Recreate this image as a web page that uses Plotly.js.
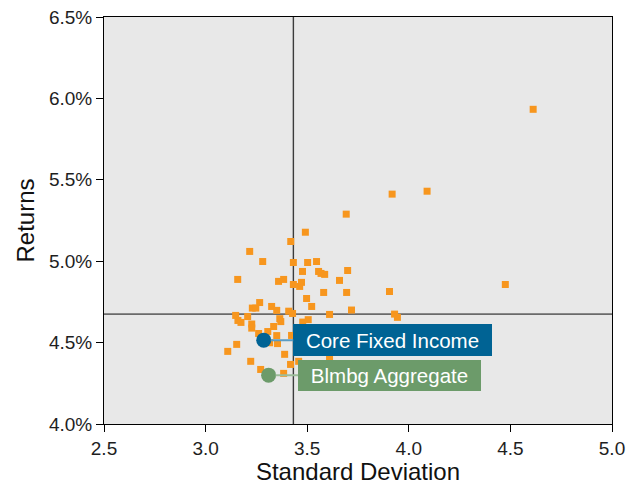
<!DOCTYPE html>
<html>
<head>
<meta charset="utf-8">
<script src="https://cdn.plot.ly/plotly-3.0.1.min.js"></script>
<style>html,body{margin:0;padding:0;background:#fff;}#chart{width:640px;height:485px;}</style>
</head>
<body>
<div id="chart"></div>
<script>
// Peer universe: standard deviation (x) and returns in % (y)
const peerStdDev = [4.612,4.090,3.918,3.692,3.491,3.419,3.217,3.281,3.432,3.502,3.546,3.158,3.359,3.384,3.432,3.477,3.556,3.568,3.586,3.699,3.659,3.472,3.463,3.581,3.694,3.905,4.475,3.497,3.522,3.718,3.930,3.944,3.266,3.230,3.247,3.325,3.350,3.409,3.428,3.148,3.207,3.159,3.174,3.227,3.227,3.335,3.365,3.370,3.261,3.306,3.350,3.423,3.354,3.153,3.109,3.389,3.222,3.418,3.271,3.384,3.315,3.610,3.478,3.505,3.458,3.610];
const peerReturns = [5.933,5.430,5.412,5.289,5.178,5.121,5.060,4.998,4.992,4.992,4.998,4.888,4.876,4.888,4.857,4.937,4.937,4.925,4.919,4.943,4.882,4.870,4.845,4.808,4.808,4.814,4.857,4.771,4.722,4.700,4.675,4.655,4.746,4.712,4.712,4.722,4.698,4.693,4.679,4.667,4.660,4.636,4.624,4.614,4.589,4.599,4.647,4.629,4.556,4.568,4.543,4.544,4.494,4.489,4.446,4.428,4.385,4.366,4.335,4.311,4.499,4.673,4.626,4.641,4.385,4.397];

const coreName = "Core Fixed Income";
const coreStdDev = [3.286];
const coreReturns = [4.515];

const aggName = "Blmbg Aggregate";
const aggStdDev = [3.310];
const aggReturns = [4.300];

// Reference (median) lines
const medianStdDev = 3.432;
const medianReturn = 4.675;

const xTicks = [2.5, 3.0, 3.5, 4.0, 4.5, 5.0];
const xTickLabels = ["2.5", "3.0", "3.5", "4.0", "4.5", "5.0"];
const yTicks = [4.0, 4.5, 5.0, 5.5, 6.0, 6.5];
const yTickLabels = ["4.0%", "4.5%", "5.0%", "5.5%", "6.0%", "6.5%"];

const FONT = "Liberation Sans";

const traces = [
  {x: peerStdDev, y: peerReturns, type: "scatter", mode: "markers", name: "Peers",
   marker: {symbol: "square", size: 7, color: "#F7961E"}, hoverinfo: "skip"},
  {x: coreStdDev, y: coreReturns, type: "scatter", mode: "markers", name: coreName,
   marker: {symbol: "circle", size: 15, color: "#006394"}},
  {x: aggStdDev, y: aggReturns, type: "scatter", mode: "markers", name: aggName,
   marker: {symbol: "circle", size: 15, color: "#6C9B6A"}}
];

const tickFont = {family: FONT, size: 19, color: "#1e1e1e"};

const layout = {
  width: 640, height: 485,
  margin: {l: 104, r: 28, t: 17, b: 61, pad: 0},
  paper_bgcolor: "#ffffff",
  plot_bgcolor: "#E8E8E8",
  showlegend: false,
  font: {family: FONT, color: "#1e1e1e", size: 19},
  xaxis: {
    range: [2.5, 5.0], tickmode: "array", tickvals: xTicks, ticktext: xTickLabels,
    showgrid: false, zeroline: false,
    showline: true, linecolor: "#000", linewidth: 1, mirror: true,
    ticks: "outside", ticklen: 7, tickcolor: "#000", tickwidth: 1,
    tickfont: tickFont,
    title: {text: "Standard Deviation", font: {family: FONT, size: 24, color: "#111"}, standoff: 3}
  },
  yaxis: {
    range: [4.0, 6.5], tickmode: "array", tickvals: yTicks, ticktext: yTickLabels,
    showgrid: false, zeroline: false,
    showline: true, linecolor: "#000", linewidth: 1, mirror: true,
    ticks: "outside", ticklen: 7, tickcolor: "#000", tickwidth: 1,
    tickfont: tickFont,
    title: {text: "Returns", font: {family: FONT, size: 24, color: "#111"}, standoff: 7}
  },
  shapes: [
    {type: "line", xref: "x", yref: "paper", x0: medianStdDev, x1: medianStdDev, y0: 0, y1: 1,
     line: {color: "#3c3c3c", width: 1.4}, layer: "below"},
    {type: "line", xref: "paper", yref: "y", x0: 0, x1: 1, y0: medianReturn, y1: medianReturn,
     line: {color: "#6a6a6a", width: 1.6}, layer: "below"}
  ],
  annotations: [
    {x: coreStdDev[0], y: coreReturns[0], xref: "x", yref: "y", text: coreName,
     showarrow: true, arrowhead: 0, arrowwidth: 2, arrowcolor: "#5A9CC4", standoff: 7,
     ax: 129, ay: 0, bgcolor: "#006394", borderpad: 2, borderwidth: 0,
     width: 195, height: 28, align: "center", valign: "middle",
     font: {family: FONT, size: 20.5, color: "#ffffff"}},
    {x: aggStdDev[0], y: aggReturns[0], xref: "x", yref: "y", text: aggName,
     showarrow: true, arrowhead: 0, arrowwidth: 2, arrowcolor: "#9CBD9A", standoff: 7,
     ax: 121, ay: 0, bgcolor: "#6C9B6A", borderpad: 2, borderwidth: 0,
     width: 179, height: 27, align: "center", valign: "middle",
     font: {family: FONT, size: 20.5, color: "#ffffff"}}
  ]
};

Plotly.newPlot("chart", traces, layout, {staticPlot: true, displayModeBar: false});
</script>
</body>
</html>
